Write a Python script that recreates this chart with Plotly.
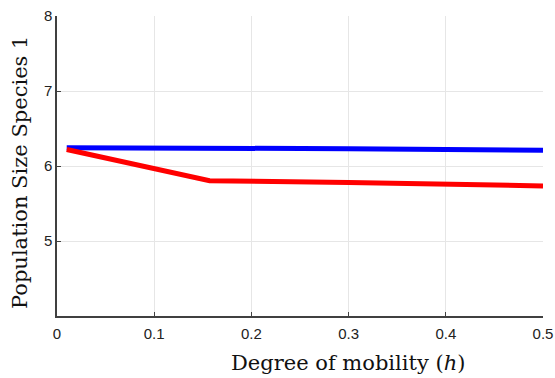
import plotly.graph_objects as go

h_blue = [0.01, 0.157, 0.3, 0.5]
pop_blue = [6.245, 6.24, 6.23, 6.21]
h_red = [0.01, 0.157, 0.3, 0.5]
pop_red = [6.22, 5.805, 5.78, 5.735]

x_ticks = [0, 0.1, 0.2, 0.3, 0.4, 0.5]
x_ticklabels = ["0", "0.1", "0.2", "0.3", "0.4", "0.5"]
y_ticks = [5, 6, 7, 8]
y_ticklabels = ["5", "6", "7", "8"]

fig = go.Figure()
fig.add_trace(go.Scatter(x=h_blue, y=pop_blue, mode="lines",
                         line=dict(color="#0000ff", width=5), showlegend=False))
fig.add_trace(go.Scatter(x=h_red, y=pop_red, mode="lines",
                         line=dict(color="#ff0000", width=5), showlegend=False))

axis_common = dict(showgrid=True, gridcolor="#e6e6e6", gridwidth=1,
                   showline=True, linecolor="#404040", linewidth=1.5,
                   ticks="inside", ticklen=4, tickcolor="#404040",
                   zeroline=False, mirror=False, automargin=False,
                   tickfont=dict(family="Liberation Sans, Arial", size=15, color="#222"))

W, H = 555, 378
l, r, t, b = 57, 12, 16, 62
pw, ph = W - l - r, H - t - b

def px(xp):
    return (xp - l) / pw

def py(yp):
    return 1 - (yp - t) / ph

fig.update_layout(
    width=W, height=H,
    margin=dict(l=l, r=r, t=t, b=b),
    paper_bgcolor="white", plot_bgcolor="white",
    xaxis=dict(range=[0, 0.5], tickvals=x_ticks, ticktext=x_ticklabels,
               ticklabelstandoff=3, **axis_common),
    yaxis=dict(range=[4, 8], tickvals=y_ticks, ticktext=y_ticklabels, **axis_common),
    annotations=[
        dict(text="Degree of mobility (<i>h</i>)",
             x=px(348), y=py(363), xref="paper", yref="paper",
             xanchor="center", yanchor="middle",
             showarrow=False, font=dict(family="DejaVu Serif", size=21, color="#111")),
        dict(text="Population Size Species 1", textangle=-90,
             x=px(20), y=py(173), xref="paper", yref="paper",
             xanchor="center", yanchor="middle",
             showarrow=False, font=dict(family="DejaVu Serif", size=21, color="#111")),
    ],
)

fig.write_html("out.html", config={"displayModeBar": False},
               post_script="document.body.style.margin='0';document.body.style.overflow='hidden';")
